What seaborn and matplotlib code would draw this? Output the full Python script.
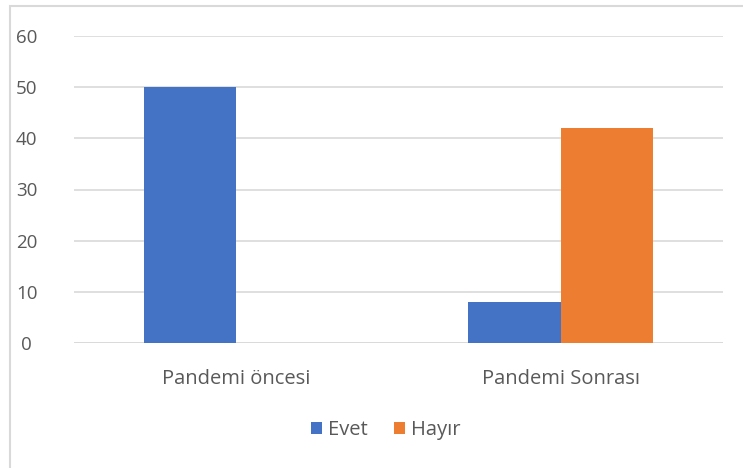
import matplotlib
matplotlib.use("Agg")
import matplotlib.pyplot as plt
import seaborn as sns
import pandas as pd
from matplotlib.patches import Rectangle, Patch

categories = ["Pandemi öncesi", "Pandemi Sonrası"]
series = ["Evet", "Hayır"]
evet = [50, 8]
hayir = [0, 42]
yticks = [0, 10, 20, 30, 40, 50, 60]
colors = ["#4472C4", "#ED7D31"]

df = pd.DataFrame({
    "cat": categories * 2,
    "series": [series[0]] * 2 + [series[1]] * 2,
    "value": evet + hayir,
})

sns.set_theme(style="white")
plt.rcParams["font.family"] = ["Open Sans", "DejaVu Sans"]
text_color = "#595959"

fig = plt.figure(figsize=(7.43, 4.68), dpi=100)
ax = fig.add_axes([74 / 743, 1 - 343 / 468, (723 - 74) / 743, (343 - 36) / 468])

sns.barplot(data=df, x="cat", y="value", hue="series", palette=colors,
            width=0.57, saturation=1, ax=ax, legend=False, linewidth=0)

ax.set_ylim(0, 60)
ax.set_yticks(yticks)
ax.set_xlim(-0.5, 1.5)
ax.yaxis.grid(True, color="#D9D9D9", linewidth=1.2)
ax.set_axisbelow(True)
for s in ax.spines.values():
    s.set_visible(False)
ax.axhline(0, color="#D9D9D9", linewidth=1.2, zorder=0.5)
ax.set_xlabel("")
ax.set_ylabel("")
ax.tick_params(axis="y", length=0, labelsize=13.5, labelcolor=text_color)
ax.tick_params(axis="x", length=0, pad=26, labelsize=14.5, labelcolor=text_color)
for lab in ax.get_yticklabels():
    lab.set_horizontalalignment("center")
ax.yaxis.set_tick_params(pad=34)
for lab in ax.get_xticklabels():
    lab.set_verticalalignment("center")

handles = [Patch(facecolor=c, edgecolor="none") for c in colors]
fig.legend(handles, series, loc="center", bbox_to_anchor=(386 / 743, 1 - 430 / 468),
           ncol=2, frameon=False, fontsize=14.5, labelcolor=text_color,
           handlelength=0.55, handleheight=0.55, handletextpad=0.3, columnspacing=1.3)

fig.patches.append(Rectangle((10 / 743, -0.01), 1.2, 1 - 6 / 468 + 0.01, transform=fig.transFigure,
                             fill=False, edgecolor="#D9D9D9", linewidth=1.5))

fig.savefig("out.png", dpi=100)
